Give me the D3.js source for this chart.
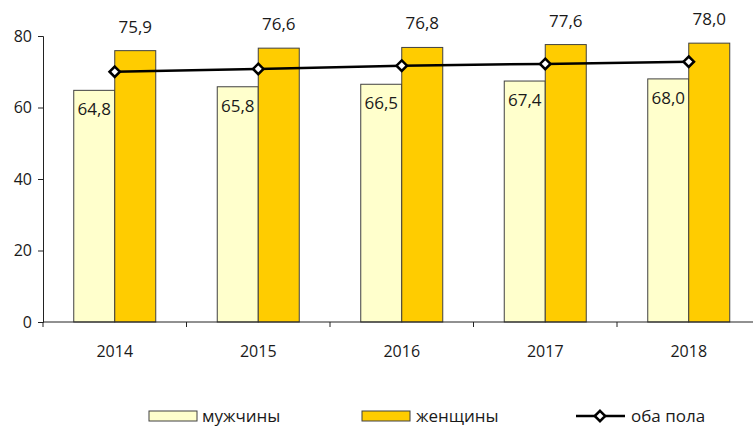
<!DOCTYPE html>
<html>
<head>
<meta charset="utf-8">
<script src="https://cdn.jsdelivr.net/npm/d3@7"></script>
<style>
  body { margin: 0; background: #fff; }
  text { font-family: "Open Sans", "Noto Sans", sans-serif; fill: #1a1a1a; }
</style>
</head>
<body>
<div id="chart"></div>
<script>
// data
var years = ["2014", "2015", "2016", "2017", "2018"];
var men = [64.8, 65.8, 66.5, 67.4, 68.0];
var women = [75.9, 76.6, 76.8, 77.6, 78.0];
var both = [70.0, 70.8, 71.7, 72.2, 72.8];
var yTicks = [0, 20, 40, 60, 80];
var seriesNames = ["мужчины", "женщины", "оба пола"];

var W = 753, H = 426;
var margin = { top: 36, left: 43, bottom: 104 };
var plotRight = 760.5;
var y0 = H - margin.bottom;

var fmt = function(v) { return v.toFixed(1).replace(".", ","); };

var svg = d3.select("#chart")
    .append("svg")
    .attr("width", W)
    .attr("height", H);

var x = d3.scaleBand()
    .domain(years)
    .range([margin.left, plotRight]);

var y = d3.scaleLinear()
    .domain([0, 80])
    .range([y0, margin.top]);

var barW = 41;

// bars - men
svg.append("g").selectAll("rect")
    .data(years)
    .enter().append("rect")
    .attr("x", function(d) { return x(d) + x.bandwidth() / 2 - barW; })
    .attr("y", function(d, i) { return y(men[i]); })
    .attr("width", barW)
    .attr("height", function(d, i) { return y0 - y(men[i]); })
    .attr("fill", "#ffffcc")
    .attr("stroke", "#404040")
    .attr("stroke-width", 1);

// bars - women
svg.append("g").selectAll("rect")
    .data(years)
    .enter().append("rect")
    .attr("x", function(d) { return x(d) + x.bandwidth() / 2; })
    .attr("y", function(d, i) { return y(women[i]); })
    .attr("width", barW)
    .attr("height", function(d, i) { return y0 - y(women[i]); })
    .attr("fill", "#ffcc00")
    .attr("stroke", "#404040")
    .attr("stroke-width", 1);

// Y axis
var yAxis = svg.append("g")
    .attr("transform", "translate(" + margin.left + ",0)")
    .call(d3.axisLeft(y).tickValues(yTicks).tickSize(5).tickPadding(6));
yAxis.select(".domain").attr("stroke", "#222");
yAxis.selectAll(".tick line").attr("stroke", "#222");
yAxis.selectAll("text").attr("font-size", 16).attr("fill", "#1a1a1a");

// X axis (ticks between categories)
var xAxis = svg.append("g")
    .attr("transform", "translate(0," + y0 + ")");
xAxis.append("line")
    .attr("x1", margin.left).attr("x2", plotRight)
    .attr("stroke", "#222");
xAxis.selectAll(".tk")
    .data(years)
    .enter().append("line")
    .attr("x1", function(d) { return x(d); })
    .attr("x2", function(d) { return x(d); })
    .attr("y2", 5)
    .attr("stroke", "#222");
xAxis.selectAll("text")
    .data(years)
    .enter().append("text")
    .attr("x", function(d) { return x(d) + x.bandwidth() / 2; })
    .attr("y", 29)
    .attr("dy", "0.35em")
    .attr("text-anchor", "middle")
    .attr("font-size", 16)
    .text(function(d) { return d; });

// line for both sexes
var line = d3.line()
    .x(function(d, i) { return x(years[i]) + x.bandwidth() / 2; })
    .y(function(d) { return y(d); });

svg.append("path")
    .datum(both)
    .attr("fill", "none")
    .attr("stroke", "#000")
    .attr("stroke-width", 2.5)
    .attr("d", line);

var diamond = d3.symbol().type(d3.symbolDiamond2).size(70);
svg.append("g").selectAll("path")
    .data(both)
    .enter().append("path")
    .attr("d", diamond)
    .attr("transform", function(d, i) {
        return "translate(" + (x(years[i]) + x.bandwidth() / 2) + "," + y(d) + ")";
    })
    .attr("fill", "#fff")
    .attr("stroke", "#000")
    .attr("stroke-width", 2.5);

// labels
svg.append("g").selectAll("text")
    .data(men)
    .enter().append("text")
    .attr("x", function(d, i) { return x(years[i]) + x.bandwidth() / 2 - barW / 2; })
    .attr("y", function(d) { return y(d) + 19; })
    .attr("dy", "0.35em")
    .attr("text-anchor", "middle")
    .attr("font-size", 17)
    .text(fmt);

svg.append("g").selectAll("text")
    .data(women)
    .enter().append("text")
    .attr("x", function(d, i) { return x(years[i]) + x.bandwidth() / 2 + barW / 2; })
    .attr("y", function(d) { return y(d) - 24; })
    .attr("dy", "0.35em")
    .attr("text-anchor", "middle")
    .attr("font-size", 17)
    .text(fmt);

// legend
var ly = 416;
var legend = svg.append("g");
var swatches = [
    { x: 149, fill: "#ffffcc" },
    { x: 362, fill: "#ffcc00" }
];
legend.selectAll("rect")
    .data(swatches)
    .enter().append("rect")
    .attr("x", function(d) { return d.x; })
    .attr("y", ly - 5)
    .attr("width", 48)
    .attr("height", 10)
    .attr("fill", function(d) { return d.fill; })
    .attr("stroke", "#404040");
legend.append("line")
    .attr("x1", 576).attr("x2", 625)
    .attr("y1", ly).attr("y2", ly)
    .attr("stroke", "#000").attr("stroke-width", 2.5);
legend.append("path")
    .attr("d", diamond)
    .attr("transform", "translate(600," + ly + ")")
    .attr("fill", "#fff").attr("stroke", "#000").attr("stroke-width", 2.5);
legend.selectAll("text")
    .data(seriesNames)
    .enter().append("text")
    .attr("x", function(d, i) { return [202, 416, 631][i]; })
    .attr("y", ly)
    .attr("dy", "0.35em")
    .attr("font-size", 17)
    .text(function(d) { return d; });
</script>
</body>
</html>
